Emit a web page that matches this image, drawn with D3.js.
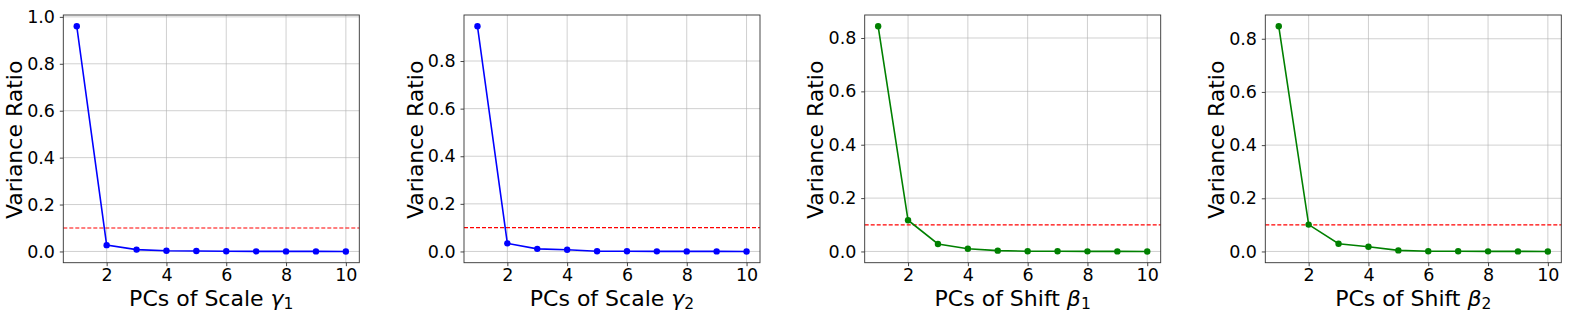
<!DOCTYPE html>
<html>
<head>
<meta charset="utf-8">
<script src="https://cdn.jsdelivr.net/npm/d3@7"></script>
<style>
  body { margin: 0; background: #fff; }
  svg text { font-family: "DejaVu Sans", sans-serif; fill: #000; }
</style>
</head>
<body>
<svg id="chart" width="1578" height="316"></svg>
<script>
const pcs = [1, 2, 3, 4, 5, 6, 7, 8, 9, 10];

const scaleGamma1 = [0.96, 0.027, 0.008, 0.003, 0.002, 0.001, 0.0005, 0.0003, 0.0002, 0.0001];
const scaleGamma2 = [0.946, 0.034, 0.011, 0.007, 0.001, 0.0008, 0.0005, 0.0003, 0.0002, 0.0001];
const shiftBeta1 = [0.844, 0.117, 0.028, 0.010, 0.003, 0.001, 0.0007, 0.0004, 0.0002, 0.0001];
const shiftBeta2 = [0.847, 0.101, 0.029, 0.018, 0.004, 0.001, 0.0007, 0.0004, 0.0002, 0.0001];

const threshold = 0.1;

const panels = [
  { values: scaleGamma1, prefix: "PCs of Scale ", sym: "γ", sub: "1", color: "#0000ff", yTicks: [0, 0.2, 0.4, 0.6, 0.8, 1.0] },
  { values: scaleGamma2, prefix: "PCs of Scale ", sym: "γ", sub: "2", color: "#0000ff", yTicks: [0, 0.2, 0.4, 0.6, 0.8] },
  { values: shiftBeta1, prefix: "PCs of Shift ", sym: "β", sub: "1", color: "#008000", yTicks: [0, 0.2, 0.4, 0.6, 0.8] },
  { values: shiftBeta2, prefix: "PCs of Shift ", sym: "β", sub: "2", color: "#008000", yTicks: [0, 0.2, 0.4, 0.6, 0.8] }
];

const svg = d3.select("#chart");
const lefts = [63.3, 464, 864.7, 1265.3];
const W = 296;
const TOP = 15;
const H = 247.7;

panels.forEach((p, i) => {
  const g = svg.append("g").attr("transform", `translate(${lefts[i]},${TOP})`);

  // matplotlib-style 5% margins
  const xr = d3.extent(pcs);
  const xpad = (xr[1] - xr[0]) * 0.05;
  const x = d3.scaleLinear().domain([xr[0] - xpad, xr[1] + xpad]).range([0, W]);
  const yr = d3.extent(p.values);
  const ypad = (yr[1] - yr[0]) * 0.05;
  const y = d3.scaleLinear().domain([yr[0] - ypad, yr[1] + ypad]).range([H, 0]);

  const xTicks = [2, 4, 6, 8, 10];

  // grid
  g.append("g").selectAll("line").data(xTicks).join("line")
    .attr("x1", d => x(d)).attr("x2", d => x(d))
    .attr("y1", 0).attr("y2", H)
    .attr("stroke", "#b0b0b0").attr("stroke-opacity", 0.6).attr("stroke-width", 1);
  g.append("g").selectAll("line").data(p.yTicks).join("line")
    .attr("x1", 0).attr("x2", W)
    .attr("y1", d => y(d)).attr("y2", d => y(d))
    .attr("stroke", "#b0b0b0").attr("stroke-opacity", 0.6).attr("stroke-width", 1);

  // threshold line
  g.append("line")
    .attr("x1", 0).attr("x2", W)
    .attr("y1", y(threshold)).attr("y2", y(threshold))
    .attr("stroke", "#ff0000").attr("stroke-width", 1.2)
    .attr("stroke-dasharray", "4,2");

  // series
  const line = d3.line().x((d, j) => x(pcs[j])).y(d => y(d));
  g.append("path").datum(p.values)
    .attr("fill", "none").attr("stroke", p.color).attr("stroke-width", 1.6)
    .attr("d", line);
  g.append("g").selectAll("circle").data(p.values).join("circle")
    .attr("cx", (d, j) => x(pcs[j])).attr("cy", d => y(d))
    .attr("r", 3.2).attr("fill", p.color);

  // axes
  const xAxis = g.append("g").attr("transform", `translate(0,${H})`)
    .call(d3.axisBottom(x).tickValues(xTicks).tickFormat(d3.format("d")).tickSize(3.5).tickPadding(2.3));
  const yAxis = g.append("g")
    .call(d3.axisLeft(y).tickValues(p.yTicks).tickFormat(d3.format(".1f")).tickSize(3.5).tickPadding(4.8));
  [xAxis, yAxis].forEach(a => {
    a.select(".domain").remove();
    a.selectAll("line").attr("stroke", "#333").attr("stroke-width", 0.9);
    a.selectAll("text").style("font-size", "17.5px").attr("fill", "#000");
  });

  // frame
  g.append("rect").attr("width", W).attr("height", H)
    .attr("fill", "none").attr("stroke", "#333").attr("stroke-width", 0.9);

  // x label
  const xl = g.append("text")
    .attr("x", W / 2).attr("y", H + 43)
    .attr("text-anchor", "middle")
    .style("font-size", "22px");
  xl.append("tspan").text(p.prefix);
  xl.append("tspan").style("font-style", "italic").text(p.sym);
  xl.append("tspan").attr("dy", 3.5).style("font-size", "15.5px").text(p.sub);

  // y label
  g.append("text")
    .attr("transform", `translate(${-49},${H / 2 + 1}) rotate(-90)`)
    .attr("text-anchor", "middle")
    .attr("dy", "0.35em")
    .style("font-size", "22px")
    .text("Variance Ratio");
});
</script>
</body>
</html>
